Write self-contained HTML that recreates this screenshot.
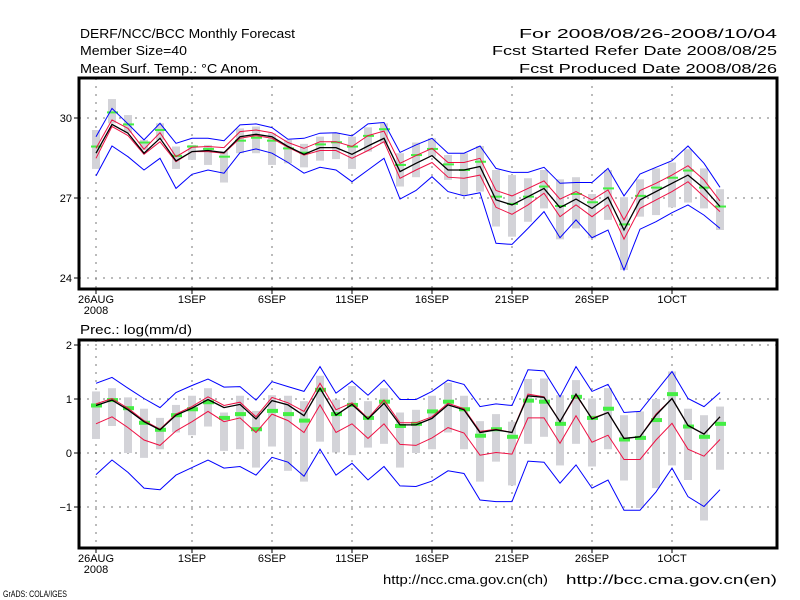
<!DOCTYPE html>
<html><head><meta charset="utf-8"><style>
html,body{margin:0;padding:0;background:#fff;}
svg{display:block;font-family:"Liberation Sans",sans-serif;}
</style></head><body>
<svg id="chart" width="800" height="600" viewBox="0 0 800 600" xmlns="http://www.w3.org/2000/svg">
<rect x="0" y="0" width="800" height="600" fill="#fff"/>
<g font-size="13" fill="#000">
<text x="80" y="38" textLength="215" lengthAdjust="spacingAndGlyphs">DERF/NCC/BCC Monthly Forecast</text>
<text x="80" y="55" textLength="107" lengthAdjust="spacingAndGlyphs">Member Size=40</text>
<text x="80" y="73" textLength="182" lengthAdjust="spacingAndGlyphs">Mean Surf. Temp.: °C Anom.</text>
<text x="519" y="38" textLength="258" lengthAdjust="spacingAndGlyphs">For 2008/08/26-2008/10/04</text>
<text x="492" y="55" textLength="285" lengthAdjust="spacingAndGlyphs">Fcst Started Refer Date 2008/08/25</text>
<text x="519" y="73" textLength="258" lengthAdjust="spacingAndGlyphs">Fcst Produced Date 2008/08/26</text>
<text x="80" y="334" textLength="112" lengthAdjust="spacingAndGlyphs">Prec.: log(mm/d)</text>
<text x="383" y="584" textLength="165" lengthAdjust="spacingAndGlyphs">http://ncc.cma.gov.cn(ch)</text>
<text x="566" y="584" textLength="211" lengthAdjust="spacingAndGlyphs">http://bcc.cma.gov.cn(en)</text>
<text x="3" y="597" font-size="9" textLength="64" lengthAdjust="spacingAndGlyphs">GrADS: COLA/IGES</text>
</g>
<g id="top"></g>
<g id="bot"></g>
</svg>
<script>
const dateLabels = ["26AUG","1SEP","6SEP","11SEP","16SEP","21SEP","26SEP","1OCT"];
const dateDays = [0,6,11,16,21,26,31,36];
const tTicks = [24,27,30];
const pTicks = [-1,0,1,2];

const tBlueHi = [29.30,30.36,29.78,29.18,29.80,29.05,29.24,29.24,29.15,29.74,29.78,29.64,29.20,29.24,29.43,29.45,29.33,29.78,29.83,28.71,28.99,29.24,28.68,28.68,28.95,28.11,27.96,27.96,28.15,27.55,27.58,27.58,28.11,27.08,27.90,28.15,28.40,28.95,28.30,27.40];
const tRedHi = [28.86,29.93,29.61,28.83,29.45,28.55,28.90,28.93,28.89,29.49,29.55,29.45,29.08,28.86,29.11,29.11,28.93,29.34,29.51,28.30,28.59,28.86,28.33,28.33,28.49,27.28,27.08,27.36,27.64,26.96,27.24,26.93,27.30,26.18,27.28,27.55,27.86,28.21,27.68,26.89];
const tBlack = [28.68,29.76,29.43,28.68,29.24,28.39,28.74,28.78,28.70,29.30,29.39,29.30,28.93,28.64,28.89,28.89,28.64,28.95,29.24,27.99,28.30,28.59,28.05,28.05,28.18,26.93,26.74,27.05,27.36,26.64,26.96,26.61,27.03,25.80,26.93,27.24,27.55,27.86,27.36,26.68];
const tRedLo = [28.49,29.68,29.34,28.64,29.11,28.36,28.74,28.74,28.68,29.24,29.34,29.24,28.90,28.61,28.78,28.78,28.49,28.78,29.11,27.74,28.05,28.33,27.78,27.74,27.86,26.65,26.39,26.74,27.18,26.30,26.74,26.30,26.74,25.46,26.61,26.93,27.24,27.61,27.05,26.49];
const tBlueLo = [27.83,28.95,28.55,28.05,28.49,27.36,27.89,28.05,27.93,28.70,28.84,28.68,28.33,27.93,28.15,28.05,27.61,28.05,28.49,26.96,27.28,27.80,27.24,27.08,27.20,25.30,25.26,25.86,26.49,25.51,26.18,25.51,25.80,24.30,25.83,26.11,26.45,26.74,26.36,25.86];
const tBarHi = [29.55,30.71,30.11,29.18,29.80,28.93,28.99,28.99,28.76,29.61,29.68,29.43,29.18,29.03,29.30,29.43,29.30,29.65,29.80,28.68,29.08,29.24,28.61,28.68,28.95,28.05,27.86,27.74,28.05,27.70,27.78,27.15,28.05,27.03,27.70,28.11,28.33,28.83,28.11,27.33];
const tBarLo = [28.09,29.80,29.45,28.80,29.18,28.09,28.43,28.24,27.58,28.68,28.68,28.24,28.30,28.15,28.40,28.46,28.09,28.74,29.05,27.43,27.78,28.55,27.68,27.11,27.24,25.93,25.55,26.11,26.61,25.45,25.86,25.49,26.18,24.30,26.30,26.36,26.65,26.83,26.61,25.80];
const tGreen = [28.93,30.21,29.76,29.08,29.55,28.58,28.93,28.84,28.55,29.15,29.26,29.15,28.86,28.70,29.01,29.09,28.93,29.33,29.58,28.24,28.61,28.84,28.26,28.05,28.36,27.05,26.78,27.05,27.43,26.70,27.15,26.84,27.36,26.01,27.08,27.39,27.76,28.03,27.39,26.68];

const pBlueHi = [1.29,1.40,1.20,1.01,0.84,1.12,1.25,1.37,1.22,1.23,0.98,1.32,1.23,1.14,1.60,1.11,1.33,1.07,1.35,0.99,0.99,1.14,1.35,1.27,0.86,0.91,0.88,1.54,1.52,1.04,1.60,1.14,1.27,0.75,0.77,1.14,1.51,1.01,0.86,1.12];
const pRedHi = [0.91,1.01,0.83,0.60,0.44,0.72,0.86,1.04,0.88,0.94,0.67,1.03,0.93,0.77,1.29,0.80,0.93,0.64,0.98,0.56,0.56,0.67,0.92,0.82,0.40,0.44,0.38,1.09,1.04,0.58,1.07,0.64,0.75,0.27,0.30,0.72,1.01,0.51,0.35,0.67];
const pBlack = [0.88,0.98,0.80,0.58,0.43,0.70,0.83,0.99,0.84,0.90,0.63,0.97,0.89,0.69,1.20,0.70,0.90,0.63,0.92,0.52,0.52,0.64,0.89,0.80,0.38,0.43,0.38,1.06,1.03,0.58,1.09,0.63,0.75,0.27,0.30,0.70,1.01,0.51,0.35,0.67];
const pRedLo = [0.54,0.67,0.47,0.24,0.14,0.41,0.58,0.77,0.58,0.65,0.38,0.72,0.60,0.38,0.89,0.38,0.54,0.27,0.54,0.16,0.14,0.28,0.47,0.37,-0.04,0.01,-0.02,0.65,0.65,0.18,0.69,0.20,0.33,-0.12,-0.12,0.24,0.55,0.07,-0.06,0.25];
const pBlueLo = [-0.40,-0.13,-0.36,-0.65,-0.68,-0.41,-0.27,-0.13,-0.28,-0.25,-0.41,-0.08,-0.17,-0.43,0.07,-0.41,-0.19,-0.50,-0.25,-0.61,-0.62,-0.52,-0.33,-0.38,-0.87,-0.90,-0.90,-0.15,-0.17,-0.56,-0.22,-0.65,-0.50,-1.06,-1.06,-0.72,-0.28,-0.81,-0.99,-0.68];
const pBarHi = [1.14,1.20,1.03,0.82,0.65,0.89,1.06,1.20,0.75,1.06,0.78,1.07,1.06,0.96,1.43,0.99,1.24,0.96,1.20,0.75,0.80,1.06,1.30,1.06,0.59,0.72,0.58,1.37,1.38,1.07,1.35,1.01,1.20,0.70,0.77,1.00,1.51,0.82,0.70,0.86];
const pBarLo = [0.26,0.50,0.00,-0.09,0.07,0.38,0.33,0.49,0.04,0.07,-0.27,0.12,-0.33,-0.53,0.21,0.01,-0.04,0.10,0.17,-0.27,0.00,0.07,0.38,0.07,-0.53,-0.16,-0.60,0.17,0.30,-0.23,0.17,-0.25,0.07,-0.51,-1.02,-0.65,-0.23,-0.50,-1.25,-0.31];
const pGreen = [0.88,0.98,0.83,0.56,0.43,0.70,0.81,0.94,0.65,0.72,0.44,0.78,0.72,0.60,1.17,0.72,0.89,0.65,0.95,0.50,0.54,0.77,0.95,0.81,0.32,0.44,0.30,0.97,0.95,0.54,1.04,0.65,0.82,0.25,0.28,0.61,1.09,0.49,0.30,0.54];

const NS = "http://www.w3.org/2000/svg";
const xDay = d => 96 + d * 16;
function mk(parent, tag, attrs) {
  const e = document.createElementNS(NS, tag);
  for (const k in attrs) e.setAttribute(k, attrs[k]);
  parent.appendChild(e);
  return e;
}
function panel(g, top, bottom, yv, ticks, series, barHi, barLo, green, gh, prefix) {
  const left = 79, right = 777;
  ticks.forEach(t => {
    const y = yv(t);
    const gl = mk(g, "line", {x1: left, x2: right, y1: y, y2: y, stroke: "#777", "stroke-dasharray": "2,6", "stroke-width": 1});
    
    
    const tk = mk(g, "line", {x1: left - 5, x2: left, y1: y, y2: y, stroke: "#000"});
    
    
    const tx = mk(g, "text", {x: left - 7, y: y + 4, "font-size": 11, "text-anchor": "end"});
    tx.textContent = t < 0 ? "\u2212" + String(-t) : String(t);
    
    
  });
  dateDays.forEach((d, i) => {
    const x = xDay(d);
    const gl = mk(g, "line", {x1: x, x2: x, y1: top, y2: bottom, stroke: "#777", "stroke-dasharray": "2,6", "stroke-width": 1});
    
    
    const tk = mk(g, "line", {x1: x, x2: x, y1: bottom, y2: bottom + 5, stroke: "#000"});
    
    
    const tx = mk(g, "text", {x: x, y: bottom + 14, "font-size": 11, "text-anchor": "middle"});
    tx.textContent = dateLabels[i];
    
    
  });
  const yr = mk(g, "text", {x: xDay(0), y: bottom + 25, "font-size": 11, "text-anchor": "middle"});
  yr.textContent = "2008";
  
  
  barHi.forEach((v, i) => {
    const y1 = yv(v), y2 = yv(barLo[i]);
    const b = mk(g, "rect", {x: xDay(i) - 4, y: y1, width: 8, height: Math.max(1, y2 - y1), fill: "#d3d3d8"});
    
    
  });
  green.forEach((v, i) => {
    const m = mk(g, "rect", {x: xDay(i) - 5, y: yv(v) - gh / 2, width: 11, height: gh, fill: "#44ee44"});
    
    
  });
  series.forEach(s => {
    const pts = s.data.map((v, i) => xDay(i) + "," + yv(v).toFixed(1)).join(" ");
    const p = mk(g, "polyline", {points: pts, fill: "none", stroke: s.color, "stroke-width": s.w});
    
    
  });
  const f = mk(g, "rect", {x: left, y: top, width: right - left, height: bottom - top, fill: "none", stroke: "#000", "stroke-width": 3});
  
  
}
const yT = v => 118 + (30 - v) * 26.667;
const yP = v => 453 - v * 54;
panel(document.getElementById("top"), 78, 289, yT, tTicks, [
  {name: "blue-upper-line", data: tBlueHi, color: "#0000ff", w: 1},
  {name: "blue-lower-line", data: tBlueLo, color: "#0000ff", w: 1},
  {name: "red-upper-line", data: tRedHi, color: "#ee1144", w: 1},
  {name: "red-lower-line", data: tRedLo, color: "#ee1144", w: 1},
  {name: "ensemble-mean-line", data: tBlack, color: "#000", w: 1.3}
], tBarHi, tBarLo, tGreen, 2, "temp");
panel(document.getElementById("bot"), 340, 548, yP, pTicks, [
  {name: "blue-upper-line", data: pBlueHi, color: "#0000ff", w: 1},
  {name: "blue-lower-line", data: pBlueLo, color: "#0000ff", w: 1},
  {name: "red-lower-line", data: pRedLo, color: "#ee1144", w: 1},
  {name: "red-upper-line", data: pRedHi, color: "#ee1144", w: 1},
  {name: "ensemble-mean-line", data: pBlack, color: "#000", w: 1.3}
], pBarHi, pBarLo, pGreen, 4, "prec");
</script>
</body></html>
